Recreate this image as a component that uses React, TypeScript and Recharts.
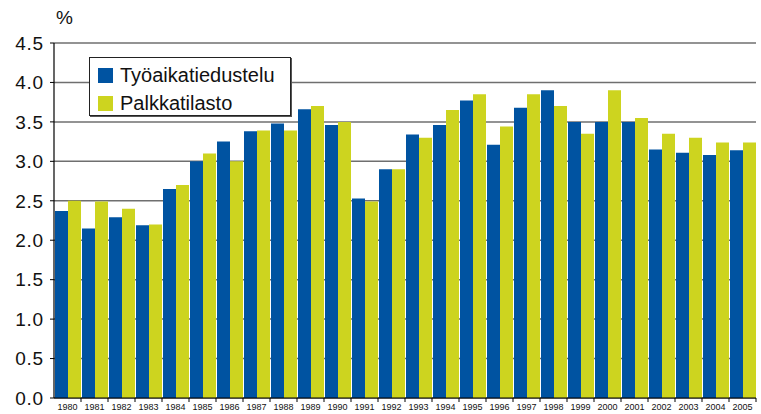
import React from "react";
import { BarChart, Bar, XAxis, YAxis, CartesianGrid } from "recharts";

const years = ["1980","1981","1982","1983","1984","1985","1986","1987","1988","1989","1990","1991","1992","1993","1994","1995","1996","1997","1998","1999","2000","2001","2002","2003","2004","2005"];
const tyoaika = [2.37,2.15,2.29,2.19,2.65,3.0,3.25,3.38,3.48,3.66,3.46,2.53,2.9,3.34,3.46,3.77,3.21,3.68,3.9,3.5,3.5,3.5,3.15,3.11,3.08,3.14];
const palkka = [2.5,2.49,2.4,2.2,2.7,3.1,3.0,3.39,3.39,3.7,3.5,2.49,2.9,3.3,3.65,3.85,3.44,3.85,3.7,3.35,3.9,3.55,3.35,3.3,3.24,3.24];
const yTicks = [0,0.5,1,1.5,2,2.5,3,3.5,4,4.5];
const seriesNames = ["Työaikatiedustelu", "Palkkatilasto"];

const BLUE = "#0053a1";
const YELLOW = "#cdd41f";
const FONT = "'Liberation Sans', Arial, sans-serif";

const data = years.map((y, i) => ({ year: y, a: tyoaika[i], b: palkka[i] }));

const XTick = (props: any) => {
  const { x, y, payload } = props;
  const half = 13.5;
  const axisY = 398;
  return (
    <g>
      <line x1={x + half} x2={x + half} y1={axisY} y2={axisY + 4} stroke="#000" strokeWidth={1} />
      <text x={x} y={axisY + 12} textAnchor="middle" fontSize={9} fontFamily={FONT} fill="#111">
        {payload.value}
      </text>
    </g>
  );
};

export default function App() {
  return (
    <div style={{ position: "absolute", left: 0, top: 0, width: 761, height: 414, background: "#fff", fontFamily: FONT }}>
      <span style={{ position: "absolute", left: 56, top: 7, fontSize: 19, color: "#111" }}>%</span>
      <BarChart
        width={761}
        height={414}
        data={data}
        margin={{ top: 43, right: 5, bottom: 0, left: 0 }}
        barCategoryGap={1}
        barGap={0}
      >
        <CartesianGrid vertical={false} stroke="#6f6f6f" strokeWidth={1.5} />
        <XAxis
          dataKey="year"
          interval={0}
          height={16}
          tickLine={false}
          axisLine={{ stroke: "#000", strokeWidth: 1.2 }}
          tick={<XTick />}
        />
        <YAxis
          domain={[0, 4.5]}
          ticks={yTicks}
          width={54}
          tickSize={4}
          tickMargin={6}
          tickFormatter={(v: number) => v.toFixed(1)}
          axisLine={{ stroke: "#000", strokeWidth: 1.2 }}
          tickLine={{ stroke: "#000" }}
          tick={{ fontSize: 19, fill: "#111", fontFamily: FONT, letterSpacing: 0.8 }}
        />
        <YAxis
          yAxisId="r"
          orientation="right"
          width={0}
          tick={false}
          tickLine={false}
          axisLine={{ stroke: "#333", strokeWidth: 1.5 }}
        />
        <Bar dataKey="a" name={seriesNames[0]} fill={BLUE} isAnimationActive={false} />
        <Bar dataKey="b" name={seriesNames[1]} fill={YELLOW} isAnimationActive={false} />
      </BarChart>
      <div
        style={{
          position: "absolute",
          left: 89,
          top: 57,
          width: 202,
          height: 59,
          background: "#fff",
          border: "1px solid #222",
          boxShadow: "1px 1px 0 #555",
          boxSizing: "border-box",
        }}
      >
        {seriesNames.map((n, i) => (
          <div key={n} style={{ position: "absolute", left: 8, top: 8 + i * 28, height: 18, display: "flex", alignItems: "center" }}>
            <div style={{ width: 15, height: 15, background: i === 0 ? BLUE : YELLOW, marginRight: 7 }} />
            <span style={{ fontSize: 20, color: "#111", lineHeight: "18px" }}>{n}</span>
          </div>
        ))}
      </div>
    </div>
  );
}
